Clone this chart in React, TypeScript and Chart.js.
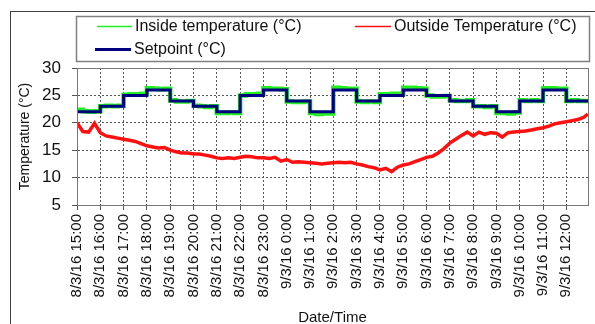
import React, { useEffect, useRef } from 'react';
import { Chart, registerables } from 'chart.js';

Chart.register(...registerables);

const tickLabels = [
  '8/3/16 15:00', '8/3/16 16:00', '8/3/16 17:00', '8/3/16 18:00', '8/3/16 19:00',
  '8/3/16 20:00', '8/3/16 21:00', '8/3/16 22:00', '8/3/16 23:00', '9/3/16 0:00',
  '9/3/16 1:00', '9/3/16 2:00', '9/3/16 3:00', '9/3/16 4:00', '9/3/16 5:00',
  '9/3/16 6:00', '9/3/16 7:00', '9/3/16 8:00', '9/3/16 9:00', '9/3/16 10:00',
  '9/3/16 11:00', '9/3/16 12:00',
];

// hours after 8/3/16 15:00
const axisEndHours = 21.93;
const setpointHours = [0, 1, 2, 3, 4, 5, 6, 7, 8, 9, 10, 11, 12, 13, 14, 15, 16, 17, 18, 19, 20, 21, 22];
const setpoint = [22, 23, 25, 26, 24, 23, 22, 25, 26, 24, 22, 26, 24, 25, 26, 25, 24, 23, 22, 24, 26, 24, 24];

// quarter-hour samples
const sampleHours = Array.from({ length: 88 }, (_, i) => i * 0.25).concat([21.92]);

const insideTemp = [
  22.4, 22.1, 22.0, 22.1,
  23.0, 23.1, 23.0, 23.1,
  25.1, 25.2, 25.2, 25.3,
  26.3, 26.2, 26.1, 26.2,
  24.1, 23.9, 23.9, 24.0,
  23.1, 23.0, 22.9, 23.0,
  21.8, 21.8, 21.9, 21.8,
  25.0, 25.2, 25.2, 25.3,
  26.3, 26.2, 26.2, 26.1,
  23.9, 23.8, 23.8, 23.9,
  21.8, 21.6, 21.7, 21.7,
  26.4, 26.3, 26.2, 26.2,
  23.9, 23.8, 23.9, 23.8,
  25.2, 25.2, 25.3, 25.3,
  26.4, 26.4, 26.3, 26.2,
  25.0, 24.8, 24.8, 24.9,
  24.1, 24.0, 24.0, 24.1,
  23.0, 23.0, 22.9, 23.0,
  21.8, 21.8, 21.7, 21.9,
  24.1, 24.0, 24.1, 24.0,
  26.3, 26.3, 26.2, 26.2,
  24.0, 24.1, 24.0, 24.0,
  24.0,
];

const outsideTemp = [
  20.0, 18.4, 18.3, 19.9,
  18.2, 17.6, 17.4, 17.2,
  17.0, 16.8, 16.6, 16.2,
  15.8, 15.6, 15.4, 15.5,
  15.0, 14.7, 14.5, 14.5,
  14.3, 14.3, 14.1, 13.9,
  13.6, 13.5, 13.6, 13.5,
  13.7, 13.9, 13.8, 13.6,
  13.6, 13.5, 13.7, 13.0,
  13.3, 12.8, 12.9, 12.8,
  12.7, 12.6, 12.5, 12.6,
  12.7, 12.8, 12.7, 12.8,
  12.5, 12.3, 12.0, 11.8,
  11.4, 11.7, 11.1, 11.9,
  12.3, 12.5, 12.9, 13.3,
  13.7, 13.9, 14.5, 15.3,
  16.3, 17.0, 17.7, 18.3,
  17.6, 18.3, 17.9, 18.2,
  18.1, 17.4, 18.2, 18.3,
  18.4, 18.5, 18.7, 18.9,
  19.1, 19.4, 19.8, 20.0,
  20.2, 20.4, 20.6, 21.0,
  21.6,
];

const seriesNames = ['Inside temperature (°C)', 'Outside Temperature (°C)', 'Setpoint (°C)'];
const seriesColors = ['#22ee22', '#ff1010', '#000080'];

const FONT = '"Liberation Sans", Arial, sans-serif';

const framePlugin = {
  id: 'frameAndLegend',
  beforeDraw(chart: any) {
    const { ctx } = chart;
    ctx.save();
    ctx.fillStyle = '#ffffff';
    ctx.fillRect(0, 0, chart.width, chart.height);
    ctx.strokeStyle = '#404040';
    ctx.lineWidth = 1;
    ctx.strokeRect(10.5, 11.5, 700, 400);
    ctx.restore();
  },
  afterDraw(chart: any) {
    const { ctx, chartArea } = chart;
    ctx.save();
    // plot frame
    ctx.strokeStyle = '#777777';
    ctx.lineWidth = 1;
    ctx.strokeRect(
      Math.round(chartArea.left) + 0.5,
      Math.round(chartArea.top) + 0.5,
      Math.round(chartArea.right - chartArea.left),
      Math.round(chartArea.bottom - chartArea.top)
    );
    // legend box
    ctx.strokeStyle = '#808080';
    ctx.lineWidth = 1.5;
    ctx.strokeRect(76.5, 16.5, 513, 45);
    const items = [
      { x: 97, y: 26, w: 35, lw: 1.5 },
      { x: 355, y: 26, w: 36, lw: 1.5 },
      { x: 95, y: 49, w: 36, lw: 3 },
    ];
    ctx.font = '16px ' + FONT;
    ctx.textBaseline = 'middle';
    ctx.textAlign = 'left';
    chart.data.datasets.forEach((ds: any, i: number) => {
      const it = items[i];
      ctx.strokeStyle = ds.borderColor;
      ctx.lineWidth = it.lw;
      ctx.beginPath();
      ctx.moveTo(it.x, it.y + 0.5);
      ctx.lineTo(it.x + it.w, it.y + 0.5);
      ctx.stroke();
      ctx.fillStyle = '#111111';
      ctx.fillText(ds.label, it.x + it.w + 3, it.y + 1);
    });
    ctx.restore();
  },
};

export default function App() {
  const ref = useRef<HTMLCanvasElement | null>(null);
  useEffect(() => {
    if (!ref.current) return;
    const chart = new Chart(ref.current, {
      type: 'line',
      data: {
        datasets: [
          {
            label: seriesNames[0],
            data: sampleHours.map((h, i) => ({ x: h, y: insideTemp[i] })),
            borderColor: seriesColors[0],
            borderWidth: 4.5,
            pointRadius: 0,
            stepped: true,
            order: 1,
          },
          {
            label: seriesNames[1],
            data: sampleHours.map((h, i) => ({ x: h, y: outsideTemp[i] })),
            borderColor: seriesColors[1],
            borderWidth: 3.5,
            pointRadius: 0,
            tension: 0,
            order: 2,
          },
          {
            label: seriesNames[2],
            data: setpointHours.map((h, i) => ({ x: h, y: setpoint[i] })),
            borderColor: seriesColors[2],
            borderWidth: 3,
            pointRadius: 0,
            stepped: true,
            order: 0,
          },
        ],
      },
      options: {
        animation: false,
        responsive: false,
        devicePixelRatio: 1,
        layout: { padding: { top: 68, right: 7, left: 0, bottom: 0 } },
        plugins: {
          legend: { display: false },
          tooltip: { enabled: false },
        },
        scales: {
          x: {
            type: 'linear',
            min: 0,
            max: axisEndHours,
            afterFit: (s: any) => { s.height = 119; },
            ticks: {
              stepSize: 1,
              includeBounds: false,
              autoSkip: false,
              minRotation: 90,
              maxRotation: 90,
              padding: 4,
              color: '#111111',
              font: { family: FONT, size: 15 },
              callback: (v: any) => (Number.isInteger(v) ? tickLabels[v] : ''),
            },
            grid: {
              color: '#555555',
              lineWidth: 1,
              tickLength: 5,
              tickColor: '#555555',
              tickBorderDash: [],
            },
            border: { display: true, color: '#666666', dash: [2, 2] },
            title: {
              display: true,
              text: 'Date/Time',
              color: '#111111',
              font: { family: FONT, size: 15 },
              padding: { top: 0, bottom: -3 },
            },
          },
          y: {
            min: 5,
            max: 30,
            afterFit: (s: any) => { s.width = 77; },
            ticks: {
              stepSize: 5,
              padding: 11,
              color: '#111111',
              font: { family: FONT, size: 17 },
            },
            grid: {
              color: '#555555',
              lineWidth: 1,
              tickLength: 5,
              tickColor: '#555555',
              tickBorderDash: [],
            },
            border: { display: true, color: '#666666', dash: [2, 2] },
            title: {
              display: true,
              text: 'Temperature (°C)',
              color: '#111111',
              font: { family: FONT, size: 14 },
              padding: { top: 17, bottom: 0 },
            },
          },
        },
      },
      plugins: [framePlugin],
    } as any);
    return () => chart.destroy();
  }, []);
  return (
    <div style={{ position: 'fixed', left: 0, top: 0, width: 595, height: 324, background: '#fff' }}>
      <canvas ref={ref} width={595} height={324} style={{ width: 595, height: 324, display: 'block' }} />
    </div>
  );
}
